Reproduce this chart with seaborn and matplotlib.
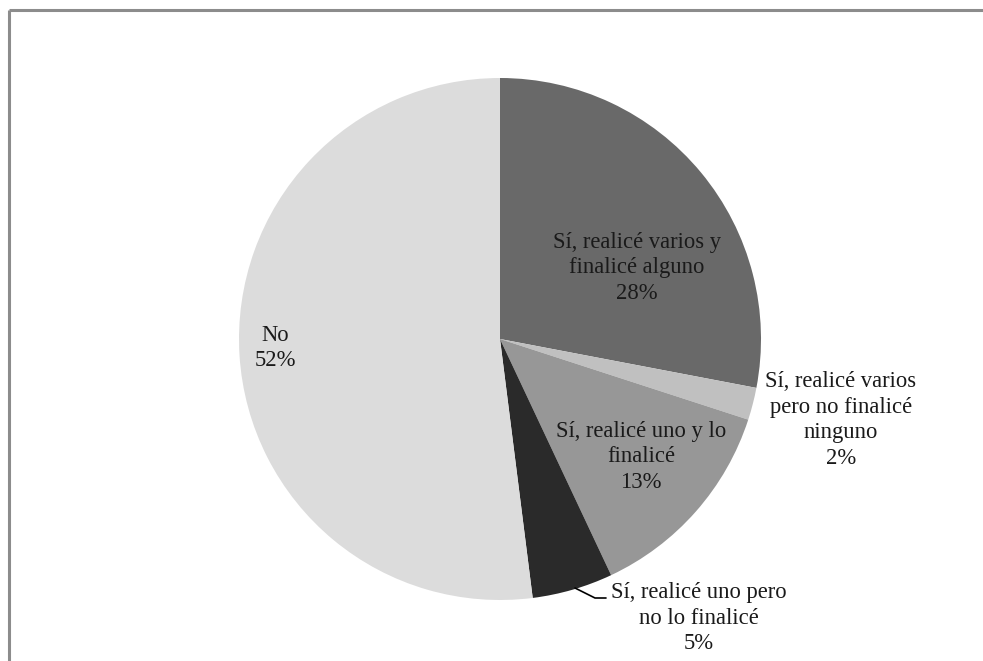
import matplotlib
matplotlib.use("Agg")
import matplotlib.pyplot as plt
import seaborn as sns

# Survey answers and their shares (percent), clockwise from 12 o'clock
labels = [
    "Sí, realicé varios y\nfinalicé alguno",
    "Sí, realicé varios\npero no finalicé\nninguno",
    "Sí, realicé uno y lo\nfinalicé",
    "Sí, realicé uno pero\nno lo finalicé",
    "No",
]
shares = [28, 2, 13, 5, 52]
colors = ["#696969", "#c0c0c0", "#979797", "#2a2a2a", "#dcdcdc"]

sns.set_theme(style="white")
plt.rcParams["font.family"] = ["Liberation Serif", "DejaVu Serif"]

W, H = 983, 661
fig = plt.figure(figsize=(W / 100, H / 100), dpi=100)
ax = fig.add_axes([0, 0, 1, 1])

cx, cy, r = 500, H - 339, 261
wedges, _ = ax.pie(
    shares,
    colors=colors,
    startangle=90,
    counterclock=False,
    center=(cx, cy),
    radius=r,
    frame=True,
)
ax.set_xlim(0, W)
ax.set_ylim(0, H)
ax.set_aspect("equal")
ax.axis("off")
for w in wedges:
    w.set_edgecolor("none")

# Label anchor points (x, distance from top) of each text block center
label_pos = [(637, 268), (841, 420), (641, 457), (699, 618), (275, 348)]
for lab, val, (x, y) in zip(labels, shares, label_pos):
    ax.text(x, H - y, f"{lab}\n{val}%", ha="center", va="center",
            fontsize=16.3, color="#1a1a1a", linespacing=1.3)

# Leader line for the small dark slice
ax.plot([575, 595, 606], [H - 588, H - 598, H - 598], color="#000000", lw=1.2)

# Chart area border (top and left edges visible)
ax.plot([9, 9], [-5, H - 9.5], color="#8c8c8c", lw=2.2, solid_capstyle="butt")
ax.plot([9, W + 5], [H - 9.5, H - 9.5], color="#8c8c8c", lw=2.2, solid_capstyle="butt")

fig.savefig("out.png", dpi=100)
